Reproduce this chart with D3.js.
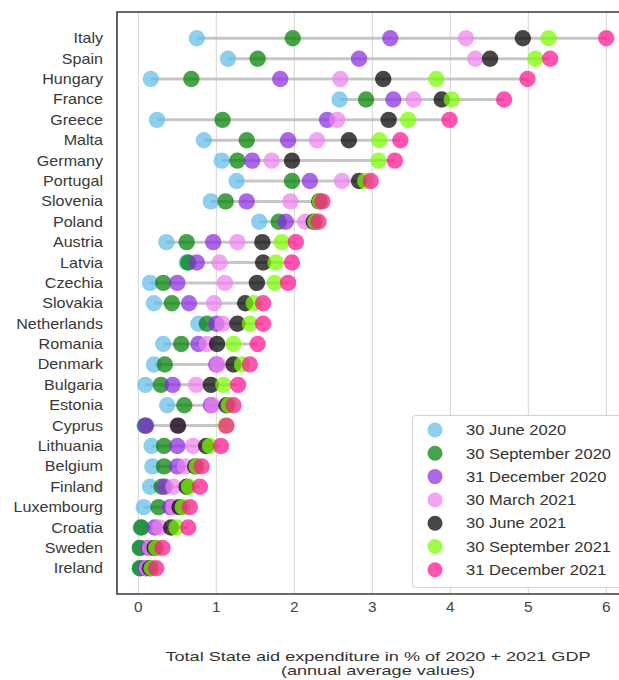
<!DOCTYPE html>
<html>
<head>
<meta charset="utf-8">
<script src="https://cdn.jsdelivr.net/npm/d3@7"></script>
<style>
  html, body { margin: 0; padding: 0; background: #fff; }
  svg { display: block; font-family: "Liberation Sans", Arial, sans-serif; }
</style>
</head>
<body>
<svg id="chart" width="619" height="680"></svg>
<script>
// Countries, top to bottom
const countries = ["Italy", "Spain", "Hungary", "France", "Greece", "Malta", "Germany", "Portugal",
  "Slovenia", "Poland", "Austria", "Latvia", "Czechia", "Slovakia", "Netherlands", "Romania",
  "Denmark", "Bulgaria", "Estonia", "Cyprus", "Lithuania", "Belgium", "Finland", "Luxembourg",
  "Croatia", "Sweden", "Ireland"];

// Reporting dates (series)
const seriesNames = ["30 June 2020", "30 September 2020", "31 December 2020", "30 March 2021",
  "30 June 2021", "30 September 2021", "31 December 2021"];

// Expenditure in % of GDP, one array per reporting date, in country order
const jun2020 = [0.75, 1.15, 0.16, 2.58, 0.24, 0.84, 1.07, 1.26, 0.93, 1.55, 0.36, 0.62, 0.15, 0.20,
  0.77, 0.32, 0.20, 0.09, 0.37, 0.08, 0.17, 0.18, 0.15, 0.07, 0.03, 0.02, 0.02];
const sep2020 = [1.98, 1.53, 0.68, 2.92, 1.08, 1.39, 1.27, 1.97, 1.12, 1.80, 0.62, 0.64, 0.32, 0.43,
  0.88, 0.55, 0.34, 0.29, 0.59, 0.09, 0.33, 0.33, 0.30, 0.26, 0.04, 0.02, 0.02];
const dec2020 = [3.23, 2.83, 1.82, 3.27, 2.42, 1.92, 1.46, 2.20, 1.39, 1.89, 0.96, 0.75, 0.50, 0.65,
  1.00, 0.77, 1.00, 0.44, 0.93, 0.10, 0.50, 0.50, 0.34, 0.41, 0.21, 0.13, 0.09];
const mar2021 = [4.20, 4.32, 2.59, 3.53, 2.55, 2.29, 1.71, 2.61, 1.95, 2.14, 1.27, 1.04, 1.11, 0.97,
  1.08, 0.88, 1.02, 0.74, 0.95, 0.50, 0.70, 0.60, 0.45, 0.45, 0.27, 0.15, 0.11];
const jun2021 = [4.93, 4.51, 3.14, 3.89, 3.21, 2.70, 1.97, 2.83, 2.32, 2.25, 1.59, 1.60, 1.52, 1.37,
  1.27, 1.01, 1.22, 0.93, 1.13, 0.51, 0.87, 0.73, 0.62, 0.53, 0.42, 0.21, 0.15];
const sep2021 = [5.26, 5.09, 3.82, 4.02, 3.46, 3.09, 3.08, 2.91, 2.33, 2.27, 1.84, 1.76, 1.75, 1.48,
  1.43, 1.22, 1.33, 1.09, 1.16, 1.12, 0.92, 0.75, 0.65, 0.57, 0.49, 0.23, 0.17];
const dec2021 = [6.00, 5.28, 4.99, 4.69, 3.99, 3.36, 3.29, 2.98, 2.36, 2.31, 2.02, 1.97, 1.92, 1.60,
  1.60, 1.53, 1.43, 1.28, 1.22, 1.13, 1.06, 0.81, 0.79, 0.66, 0.64, 0.31, 0.23];

const seriesValues = [jun2020, sep2020, dec2020, mar2021, jun2021, sep2021, dec2021];
const seriesColors = ["#62bde6", "#008000", "#8a2be2", "#ee82ee", "#000000", "#7cfc00", "#ff1493"];

const xTicks = [0, 1, 2, 3, 4, 5, 6];
const xTitle = ["Total State aid expenditure in % of 2020 + 2021 GDP", "(annual average values)"];

const svg = d3.select("#chart");
const frame = { left: 117, top: 12, right: 626, bottom: 594 };
const dotOpacity = 0.72;

const x = d3.scaleLinear().domain([0, 6]).range([138.3, 606.3]);
const y = d3.scalePoint().domain(countries).range([38.3, 568.3]);

// horizontally widened text helper
function wideText(sel, sx) {
  return sel.attr("transform", d => `translate(${d.tx},${d.ty}) scale(${sx},1)`);
}

// vertical grid
svg.append("g").selectAll("line").data(xTicks).join("line")
  .attr("x1", d => x(d)).attr("x2", d => x(d))
  .attr("y1", frame.top).attr("y2", frame.bottom)
  .attr("stroke", "#d4d4d4").attr("stroke-width", 1);

// range line per country
const rows = countries.map((c, i) => {
  const vals = seriesValues.map(s => s[i]);
  return { country: c, min: d3.min(vals), max: d3.max(vals) };
});
svg.append("g").selectAll("line").data(rows).join("line")
  .attr("x1", d => x(d.min)).attr("x2", d => x(d.max))
  .attr("y1", d => y(d.country)).attr("y2", d => y(d.country))
  .attr("stroke", "#b8b8b8").attr("stroke-width", 3).attr("stroke-opacity", 0.8);

// dots, one layer per reporting date
seriesValues.forEach((vals, k) => {
  svg.append("g").selectAll("circle").data(vals).join("circle")
    .attr("cx", d => x(d))
    .attr("cy", (d, i) => y(countries[i]))
    .attr("r", 8.2)
    .attr("fill", seriesColors[k])
    .attr("fill-opacity", dotOpacity);
});

// frame (left, top, bottom)
svg.append("path")
  .attr("d", `M${frame.right},${frame.top}H${frame.left}V${frame.bottom}H${frame.right}`)
  .attr("fill", "none").attr("stroke", "#3a3a3a").attr("stroke-width", 1.6);

// country labels
wideText(svg.append("g").selectAll("text")
  .data(countries.map(c => ({ label: c, tx: 103, ty: y(c) })))
  .join("text"), 1.15)
  .attr("dy", "0.36em")
  .attr("text-anchor", "end")
  .attr("font-size", 14)
  .attr("fill", "#383838")
  .text(d => d.label);

// x tick labels
wideText(svg.append("g").selectAll("text")
  .data(xTicks.map(t => ({ label: t, tx: x(t), ty: 612 })))
  .join("text"), 1.1)
  .attr("text-anchor", "middle")
  .attr("font-size", 14)
  .attr("fill", "#444")
  .text(d => d.label);

// x axis title
wideText(svg.append("g").selectAll("text")
  .data(xTitle.map((t, i) => ({ label: t, tx: 378, ty: 660.5 + i * 14.2 })))
  .join("text"), 1.45)
  .attr("text-anchor", "middle")
  .attr("font-size", 12.5)
  .attr("fill", "#333")
  .text(d => d.label);

// legend
const lg = svg.append("g");
lg.append("rect")
  .attr("x", 412.5).attr("y", 415.5).attr("width", 220).attr("height", 172)
  .attr("rx", 3)
  .attr("fill", "#fff").attr("fill-opacity", 0.9)
  .attr("stroke", "#d0d0d0").attr("stroke-width", 1);
const items = lg.selectAll("g.item").data(seriesNames).join("g")
  .attr("class", "item")
  .attr("transform", (d, i) => `translate(0,${430 + i * 23.3})`);
items.append("circle")
  .attr("cx", 435).attr("cy", 0).attr("r", 7.5)
  .attr("fill", (d, i) => seriesColors[i]).attr("fill-opacity", dotOpacity);
items.append("text")
  .attr("transform", "translate(466,0) scale(1.14,1)")
  .attr("dy", "0.36em")
  .attr("font-size", 14.5)
  .attr("fill", "#333")
  .text(d => d);
</script>
</body>
</html>
